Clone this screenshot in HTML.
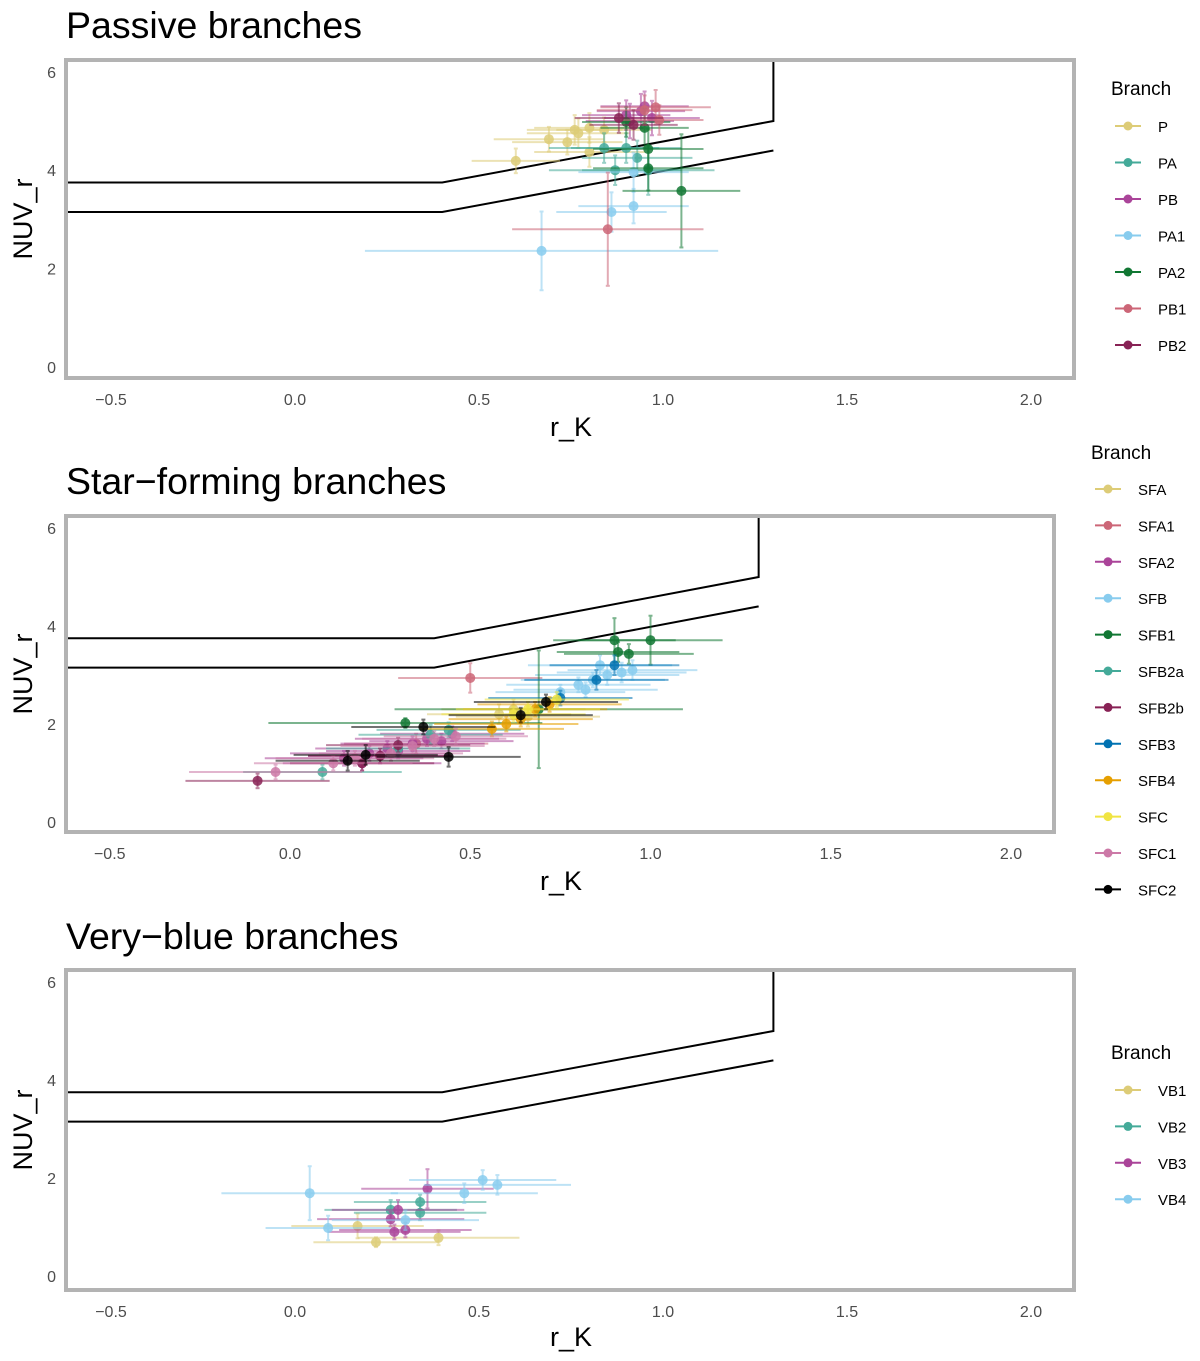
<!DOCTYPE html>
<html><head><meta charset="utf-8"><style>
body{margin:0;background:#fff;font-family:"Liberation Sans",sans-serif}
svg text{font-family:"Liberation Sans",sans-serif}
</style></head><body>
<svg id="c" width="1200" height="1356" xmlns="http://www.w3.org/2000/svg"></svg>
<script>
// ---------- data ----------
const xTicks=[-0.5,0,0.5,1,1.5,2];
const xTickLabels=["\u22120.5","0.0","0.5","1.0","1.5","2.0"];
const yTicks=[0,2,4,6];
const boundUpperX=[-0.62,0.4,1.3,1.3];
const boundUpperY=[3.75,3.75,5.0,6.3];
const boundLowerX=[-0.62,0.4,1.3];
const boundLowerY=[3.15,3.15,4.4];

const p1Names=["P","PA","PB","PA1","PA2","PB1","PB2"];
const p1X=[[0.60,0.69,0.74,0.76,0.80,0.84,0.80,0.77],[0.84,0.87,0.93,0.96,0.90],[0.91,0.94,0.97,0.90,0.95],[0.67,0.86,0.92,0.92],[1.05,0.96,0.96,0.90,0.95],[0.85,0.98,0.95,0.99],[0.88,0.92]];
const p1Y=[[4.19,4.63,4.57,4.82,4.86,4.82,4.37,4.75],[4.45,4.0,4.25,4.0,4.45],[5.0,5.2,5.06,5.12,5.3],[2.36,3.15,3.27,3.96],[3.58,4.04,4.43,4.98,4.86],[2.8,5.28,5.22,5.02],[5.06,4.92]];
const p1XE=[[0.12,0.15,0.15,0.13,0.15,0.13,0.15,0.14],[0.15,0.18,0.15,0.18,0.15],[0.12,0.12,0.13,0.12,0.12],[0.48,0.15,0.15,0.15],[0.16,0.15,0.15,0.12,0.12],[0.26,0.15,0.13,0.12],[0.12,0.12]];
const p1YE=[[0.25,0.25,0.25,0.3,0.3,0.25,0.3,0.3],[0.3,0.3,0.35,0.5,0.3],[0.35,0.35,0.35,0.3,0.3],[0.8,0.4,0.35,0.4],[1.15,0.45,0.4,0.3,0.4],[1.15,0.35,0.3,0.3],[0.3,0.3]];

const p2Names=["SFA","SFA1","SFA2","SFB","SFB1","SFB2a","SFB2b","SFB3","SFB4","SFC","SFC1","SFC2"];
const p2X=[[0.58,0.62,0.66],[0.50,0.35],[0.15,0.22,0.27,0.30,0.34,0.38,0.42,0.45,0.25,0.20],[0.75,0.80,0.84,0.88,0.92,0.95,0.86,0.82],[0.90,1.00,0.91,0.94,0.32,0.69],[0.09,0.39,0.44,0.30],[-0.09,0.20,0.30,0.25],[0.90,0.75,0.85],[0.60,0.64,0.68,0.72,0.56],[0.66,0.74,0.62],[-0.04,0.12,0.18,0.28,0.34,0.40,0.46],[0.44,0.21,0.37,0.64,0.71,0.16]];
const p2Y=[[2.2,2.3,2.15],[2.94,1.6],[1.3,1.4,1.5,1.45,1.6,1.7,1.65,1.8,1.35,1.2],[2.65,2.8,2.9,3.0,3.05,3.1,3.2,2.7],[3.71,3.71,3.47,3.43,2.02,2.3],[1.02,1.78,1.88,1.5],[0.84,1.2,1.57,1.35],[3.2,2.53,2.9],[2.0,2.1,2.3,2.4,1.9],[2.3,2.5,2.2],[1.02,1.2,1.3,1.4,1.55,1.7,1.75],[1.33,1.37,1.94,2.18,2.45,1.25]];
const p2XE=[[0.2,0.2,0.2],[0.2,0.2],[0.22,0.22,0.2,0.2,0.2,0.2,0.2,0.2,0.2,0.22],[0.18,0.2,0.2,0.2,0.18,0.18,0.2,0.2],[0.17,0.2,0.17,0.18,0.38,0.4],[0.22,0.2,0.2,0.2],[0.2,0.2,0.2,0.2],[0.18,0.2,0.2],[0.2,0.2,0.2,0.2,0.2],[0.2,0.2,0.2],[0.24,0.22,0.22,0.2,0.2,0.2,0.2],[0.2,0.2,0.2,0.2,0.2,0.2]];
const p2YE=[[0.2,0.2,0.2],[0.3,0.2],[0.15,0.15,0.15,0.15,0.15,0.15,0.15,0.15,0.15,0.15],[0.15,0.15,0.15,0.2,0.2,0.2,0.2,0.15],[0.45,0.5,0.2,0.2,0.1,1.2],[0.15,0.2,0.15,0.15],[0.15,0.15,0.15,0.15],[0.2,0.15,0.2],[0.15,0.15,0.15,0.15,0.15],[0.15,0.15,0.15],[0.15,0.15,0.15,0.15,0.15,0.15,0.15],[0.2,0.2,0.15,0.15,0.15,0.2]];

const p3Names=["VB1","VB2","VB3","VB4"];
const p3X=[[0.22,0.39,0.17],[0.34,0.34,0.26],[0.36,0.26,0.27,0.30,0.28],[0.04,0.46,0.51,0.55,0.09,0.30]];
const p3Y=[[0.69,0.78,1.02],[1.29,1.51,1.35],[1.78,1.16,0.9,0.94,1.35],[1.69,1.69,1.96,1.86,0.98,1.14]];
const p3XE=[[0.17,0.22,0.18],[0.18,0.18,0.18],[0.18,0.2,0.18,0.18,0.18],[0.24,0.2,0.2,0.2,0.17,0.2]];
const p3YE=[[0.1,0.15,0.25],[0.15,0.15,0.2],[0.4,0.15,0.15,0.15,0.2],[0.55,0.2,0.2,0.2,0.25,0.2]];

const colors={P:"#DDCC77",PA:"#44AA99",PB:"#AA4499",PA1:"#88CCEE",PA2:"#117733",PB1:"#CC6677",PB2:"#882255",
SFA:"#DDCC77",SFA1:"#CC6677",SFA2:"#AA4499",SFB:"#88CCEE",SFB1:"#117733",SFB2a:"#44AA99",SFB2b:"#882255",SFB3:"#0072B2",SFB4:"#E69F00",SFC:"#F0E442",SFC1:"#CC79A7",SFC2:"#000000",
VB1:"#DDCC77",VB2:"#44AA99",VB3:"#AA4499",VB4:"#88CCEE"};

const panels=[
 {title:"Passive branches",key:"passive",names:p1Names,X:p1X,Y:p1Y,XE:p1XE,YE:p1YE,box:[66,60,1074,378],x0:295,xu:368,y0:367,yu:49.2,legX:1111,legTitleY:88,legY0:126,legDy:36.5,titleY:38,xlabY:436},
 {title:"Star\u2212forming branches",key:"sf",names:p2Names,X:p2X,Y:p2Y,XE:p2XE,YE:p2YE,box:[66,516,1054,832],x0:290,xu:360.5,y0:822,yu:49,legX:1091,legTitleY:452,legY0:489,legDy:36.4,titleY:494,xlabY:890},
 {title:"Very\u2212blue branches",key:"vb",names:p3Names,X:p3X,Y:p3Y,XE:p3XE,YE:p3YE,box:[66,970,1074,1290],x0:295,xu:368,y0:1276,yu:49,legX:1111,legTitleY:1052,legY0:1090,legDy:36.4,titleY:949,xlabY:1346}
];
// ---------- drawing ----------
const svg=document.getElementById('c');
const NS="http://www.w3.org/2000/svg";
function mk(tag,attrs,parent){const e=document.createElementNS(NS,tag);for(const k in attrs)e.setAttribute(k,attrs[k]);(parent||svg).appendChild(e);return e;}
panels.forEach(p=>{
 const g=mk('g',{});
 
 
 const sx=v=>p.x0+v*p.xu, sy=v=>p.y0-v*p.yu;
 const [bx0,by0,bx1,by1]=p.box;
 const t=mk('text',{x:66,y:p.titleY,'font-size':37.5,fill:'#000'},g);t.textContent=p.title;
 
 
 const clipId='clip-'+p.key;
 const cp=mk('clipPath',{id:clipId},g);mk('rect',{x:bx0,y:by0,width:bx1-bx0,height:by1-by0},cp);
 const plot=mk('g',{'clip-path':'url(#'+clipId+')'},g);
 
 
 const up=mk('polyline',{points:boundUpperX.map((x,i)=>sx(x)+','+sy(boundUpperY[i])).join(' '),fill:'none',stroke:'#000','stroke-width':2},plot);
 
 
 const lo=mk('polyline',{points:boundLowerX.map((x,i)=>sx(x)+','+sy(boundLowerY[i])).join(' '),fill:'none',stroke:'#000','stroke-width':2},plot);
 
 
 p.names.forEach((n,si)=>{
  const c=colors[n];
  const sg=mk('g',{},plot);
  
  
  p.X[si].forEach((x,i)=>{
   const y=p.Y[si][i],xe=p.XE[si][i],ye=p.YE[si][i];
   const eb=mk('g',{stroke:c,'stroke-width':2,opacity:0.55},sg);
   
   
   mk('line',{x1:sx(x-xe),x2:sx(x+xe),y1:sy(y),y2:sy(y)},eb);
   mk('line',{x1:sx(x),x2:sx(x),y1:sy(y-ye),y2:sy(y+ye)},eb);
   mk('line',{x1:sx(x)-2,x2:sx(x)+2,y1:sy(y-ye),y2:sy(y-ye)},eb);
   mk('line',{x1:sx(x)-2,x2:sx(x)+2,y1:sy(y+ye),y2:sy(y+ye)},eb);
   const pt=mk('circle',{cx:sx(x),cy:sy(y),r:5,fill:c,opacity:0.85},sg);
   
   
  });
 });
 const fr=mk('rect',{x:bx0,y:by0,width:bx1-bx0,height:by1-by0,fill:'none',stroke:'#b3b3b3','stroke-width':4},g);
 
 
 xTicks.forEach((v,i)=>{
  const tx=mk('text',{x:sx(v),y:by1+27,'font-size':16,fill:'#4d4d4d','text-anchor':'middle'},g);tx.textContent=xTickLabels[i];
  
  
 });
 yTicks.forEach(v=>{
  const ty=mk('text',{x:56,y:sy(v)+6,'font-size':16,fill:'#4d4d4d','text-anchor':'end'},g);ty.textContent=v;
  
  
 });
 const xl=mk('text',{x:(bx0+bx1)/2+1,y:p.xlabY,'font-size':27,'text-anchor':'middle'},g);xl.textContent="r_K";
 
 
 const yc=(by0+by1)/2;
 const yl=mk('text',{x:32,y:yc,'font-size':27,'text-anchor':'middle',transform:'rotate(-90 32 '+yc+')'},g);yl.textContent="NUV_r";
 
 
 const lg=mk('g',{},g);
 
 
 const lt=mk('text',{x:p.legX,y:p.legTitleY+7,'font-size':19},lg);lt.textContent="Branch";
 
 
 p.names.forEach((n,i)=>{
  const yy=p.legY0+i*p.legDy;
  const e=mk('g',{},lg);
  
  
  mk('line',{x1:p.legX+4,x2:p.legX+30,y1:yy,y2:yy,stroke:colors[n],'stroke-width':2},e);
  mk('circle',{cx:p.legX+17,cy:yy,r:4.5,fill:colors[n]},e);
  const tt=mk('text',{x:p.legX+47,y:yy+6,'font-size':15,fill:'#000'},e);tt.textContent=n;
 });
});
</script>
</body></html>
